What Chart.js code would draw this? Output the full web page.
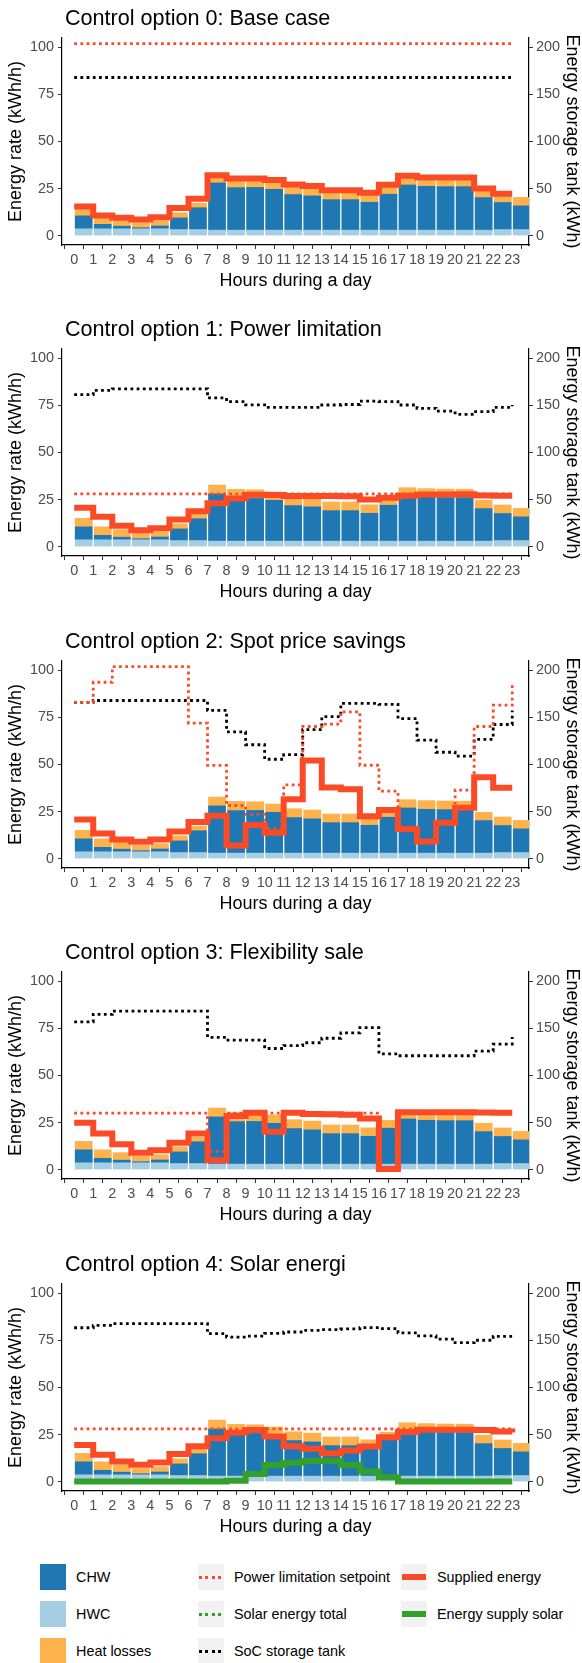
<!DOCTYPE html>
<html>
<head>
<meta charset="utf-8">
<title>Control options</title>
<script src="https://cdn.jsdelivr.net/npm/chart.js@4.4.0/dist/chart.umd.min.js"></script>
<style>
  body { margin: 0; background: #fff; font-family: 'Liberation Sans', Arial, sans-serif; }
  #page { position: relative; width: 582px; height: 1663px; }
  .panel { position: absolute; left: 0; width: 582px; height: 311px; }
  .panel h2 { position: absolute; left: 65px; top: 7px; margin: 0; font-size: 21.6px; line-height: 22px;
              font-weight: normal; color: #000; white-space: nowrap; }
  .panel canvas { position: absolute; left: 0; top: 0; }
  .key { position: absolute; width: 26px; height: 26px; }
  .key.line { background: #f2f2f2; }
  .key .seg { position: absolute; left: 1px; width: 24px; }
  .label { position: absolute; font-size: 14.4px; line-height: 18px; color: #000; white-space: nowrap; }
</style>
</head>
<body>
<div id="page"></div>

<script>
  var hours = [0, 1, 2, 3, 4, 5, 6, 7, 8, 9, 10, 11, 12, 13, 14, 15, 16, 17, 18, 19, 20, 21, 22, 23];
  var yTicks = [0, 25, 50, 75, 100];
  var y2Ticks = [0, 50, 100, 150, 200];

  // demand (same in every panel), kWh/h
  var hwc = [3.6, 3.6, 3.6, 3.6, 3.6, 3.2, 3.2, 2.9, 2.9, 2.9, 2.9, 2.9, 2.9, 2.9, 2.9, 2.9, 2.9, 2.9, 2.9, 2.9, 2.9, 2.9, 3.2, 3.2];
  var chw = [6.9, 2.4, 1.4, 0.6, 1.5, 6.2, 11.6, 25.1, 22.6, 22.7, 21.7, 18.9, 18.2, 16.2, 16.2, 14.8, 19.1, 24.0, 23.3, 23.1, 23.1, 17.3, 14.4, 12.6];
  var heatLosses = [4.5, 4.5, 4.0, 2.8, 2.8, 2.7, 2.4, 4.7, 4.9, 4.6, 4.4, 4.7, 4.7, 4.6, 4.6, 4.5, 4.2, 4.4, 4.6, 4.6, 4.5, 4.4, 4.5, 4.5];

  // option 0
  var supplied0 = [15.5, 10.7, 9.5, 8.6, 9.8, 14.6, 19.6, 32.1, 30.4, 30.4, 29.5, 27.1, 26.4, 24.1, 24.1, 22.7, 27.0, 31.8, 30.9, 30.9, 30.9, 25.0, 22.3, 22.3];
  var limit0 = [102, 102, 102, 102, 102, 102, 102, 102, 102, 102, 102, 102, 102, 102, 102, 102, 102, 102, 102, 102, 102, 102, 102, 102];
  var soc0 = [168, 168, 168, 168, 168, 168, 168, 168, 168, 168, 168, 168, 168, 168, 168, 168, 168, 168, 168, 168, 168, 168, 168, 168];

  // option 1
  var supplied1 = [20.6, 15.8, 11.1, 8.7, 9.8, 14.4, 18.8, 23.0, 25.6, 27.5, 27.4, 26.9, 26.9, 26.9, 26.7, 25.0, 25.9, 27.0, 27.7, 27.7, 27.8, 27.2, 27.0, 27.0];
  var limit1 = [28, 28, 28, 28, 28, 28, 28, 28, 28, 28, 28, 28, 28, 28, 28, 28, 28, 28, 28, 28, 28, 28, 28, 28];
  var soc1 = [161.6, 166, 167.7, 167.7, 167.7, 167.7, 167.7, 158, 154, 150.6, 148, 148, 148, 150.5, 151, 154.5, 154, 150.5, 147, 144, 140.5, 143.5, 148, 150.6];

  // option 2
  var supplied2 = [20.8, 13.3, 10.2, 9.0, 10.1, 14.4, 19.5, 22.8, 7.0, 17.8, 13.7, 31.5, 52.1, 37.8, 36.9, 22.5, 25.8, 15.7, 9.1, 19.1, 27.0, 43.2, 37.7, 37.7];
  var limit2 = [83, 93.7, 102, 102, 102, 102, 72, 49.5, 28.2, 23.5, 16, 39.2, 70.2, 71.5, 78, 49.6, 35.8, 15.7, 9.1, 19.1, 36.4, 70.2, 81.5, 93];
  var soc2 = [166, 168, 168, 168, 168, 168, 168, 157.5, 134.7, 121, 105.6, 110.4, 137, 150.8, 165, 165, 164, 148.8, 126, 113, 109, 126.8, 142.5, 157.3];

  // option 3
  var supplied3 = [24.9, 19.2, 13.5, 9.0, 10.3, 14.3, 19.2, 5.0, 28.5, 30.2, 20.1, 30.2, 29.5, 29.4, 29.2, 27.2, 0.3, 30.5, 30.5, 30.5, 30.5, 30.4, 30.2, 30.2];
  var limit3 = [30, 30, 30, 30, 30, 30, 30, 9.7, 30, 30, 30, 30, 30, 30, 30, 30, 0.3, 30, 30, 30, 30, 30, 30, 30];
  var soc3 = [157, 165, 168.5, 168.5, 168.5, 168.5, 168.5, 140.5, 137.7, 137.7, 128.7, 131.7, 134.8, 139.6, 145.3, 150.8, 123, 121, 121, 121, 121, 126, 133.4, 141];

  // option 4
  var supplied4 = [19.4, 14.2, 10.7, 9.0, 10.2, 14.6, 18.8, 23.0, 25.9, 27.4, 24.0, 18.8, 17.5, 15.1, 16.5, 18.6, 23.5, 26.3, 27.5, 27.5, 27.6, 27.4, 26.6, 26.1];
  var limit4 = [28, 28, 28, 28, 28, 28, 28, 28, 28, 28, 28, 28, 28, 28, 28, 28, 28, 28, 28, 28, 28, 28, 28, 28];
  var soc4 = [163.5, 166, 167.8, 167.8, 167.8, 167.8, 167.8, 157.2, 153.6, 154.7, 157.5, 159, 160.7, 161.5, 162.3, 163.7, 162.6, 158, 154.9, 151.4, 147.6, 150.2, 154.4, 154.4];
  var solar4 = [0, 0, 0, 0, 0, 0, 0, 0, 0.5, 4.0, 8.8, 10.0, 11.0, 11.0, 8.8, 5.4, 2.3, 0, 0, 0, 0, 0, 0, 0];

  var panels = [
    { title: 'Control option 0: Base case', supplied: supplied0, limit: limit0, soc: soc0 },
    { title: 'Control option 1: Power limitation', supplied: supplied1, limit: limit1, soc: soc1 },
    { title: 'Control option 2: Spot price savings', supplied: supplied2, limit: limit2, soc: soc2 },
    { title: 'Control option 3: Flexibility sale', supplied: supplied3, limit: limit3, soc: soc3 },
    { title: 'Control option 4: Solar energi', supplied: supplied4, limit: limit4, soc: soc4, solar: solar4 }
  ];

  var colors = {
    chw: '#1F78B4', hwc: '#A6CEE3', losses: '#FDB24C',
    supplied: '#FA4B26', limit: '#FB4A2A', solar: '#33A02C', soc: '#000000'
  };
  var FONT = "'Liberation Sans', Arial, sans-serif";

  function barData(vals) {
    return vals.map(function(v, i) { return { x: hours[i] + 0.5, y: v }; });
  }
  function lineData(vals) {
    return vals.map(function(v, i) { return { x: hours[i], y: v }; });
  }
  function bar(label, vals, color) {
    return { type: 'bar', label: label, data: barData(vals), backgroundColor: color,
             stack: 'demand', barThickness: 17.1, order: 10, borderWidth: 0 };
  }
  function step(label, vals, color, width, dotted, order, axis) {
    return { type: 'line', label: label, data: lineData(vals), borderColor: color, borderWidth: width,
             borderDash: dotted ? [2.8, 3.4] : [], stepped: true, pointRadius: 0, fill: false,
             borderCapStyle: 'butt', borderJoinStyle: 'miter', order: order,
             stack: label, yAxisID: axis || 'y' };
  }
  function fixTicks(list) {
    return function(s) { s.ticks = list.map(function(v) { return { value: v }; }); };
  }
  var tickFont = { family: FONT, size: 14.4 };
  var titleFont = { family: FONT, size: 18, lineHeight: 1.1 };
  var gridOpts = { display: true, drawOnChartArea: false, drawTicks: true, tickLength: 4, color: '#333333', lineWidth: 1 };
  var borderOpts = { display: true, color: '#000000', width: 1.2 };

  var page = document.getElementById('page');

  panels.forEach(function(p, i) {
    var div = document.createElement('div');
    div.className = 'panel';
    div.style.top = Math.round(i * 311.4) + 'px';
    var h = document.createElement('h2');
    h.textContent = p.title;
    var canvas = document.createElement('canvas');
    canvas.width = 582;
    canvas.height = 311;
    div.appendChild(canvas);
    div.appendChild(h);
    page.appendChild(div);

    var datasets = [
      bar('HWC', hwc, colors.hwc),
      bar('CHW', chw, colors.chw),
      bar('Heat losses', heatLosses, colors.losses),
      step('SoC storage tank', p.soc, colors.soc, 2.8, true, 4, 'y2'),
      step('Power limitation setpoint', p.limit, colors.limit, 2.8, true, 3)
    ];
    if (p.solar) datasets.push(step('Energy supply solar', p.solar, colors.solar, 6, false, 2));
    datasets.push(step('Supplied energy', p.supplied, colors.supplied, 6, false, 1));

    new Chart(canvas.getContext('2d'), {
      type: 'bar',
      data: { datasets: datasets },
      options: {
        responsive: false,
        animation: false,
        events: [],
        layout: { padding: { top: 38, left: 0, right: 0, bottom: 0 } },
        plugins: { legend: { display: false }, tooltip: { enabled: false } },
        scales: {
          x: {
            type: 'linear', min: -0.64, max: 23.88, offset: false, stacked: true,
            afterBuildTicks: fixTicks(hours),
            afterFit: function(s) { s.height = 66; },
            grid: gridOpts, border: borderOpts,
            ticks: { font: tickFont, color: '#4D4D4D', padding: 2, maxRotation: 0, autoSkip: false },
            title: { display: true, text: 'Hours during a day', color: '#000', font: titleFont, padding: { top: 0, bottom: 20 } }
          },
          y: {
            type: 'linear', position: 'left', min: -5, max: 105, stacked: true,
            afterBuildTicks: fixTicks(yTicks),
            afterFit: function(s) { s.width = 62; },
            grid: gridOpts, border: borderOpts,
            ticks: { font: tickFont, color: '#4D4D4D', padding: 4 },
            title: { display: true, text: 'Energy rate (kWh/h)', color: '#000', font: titleFont, padding: { top: 6 } }
          },
          y2: {
            type: 'linear', position: 'right', min: -10, max: 210,
            afterBuildTicks: fixTicks(y2Ticks),
            afterFit: function(s) { s.width = 53; },
            grid: gridOpts, border: borderOpts,
            ticks: { font: tickFont, color: '#4D4D4D', padding: 3 },
            title: { display: true, text: 'Energy storage tank (kWh)', color: '#000', font: titleFont, padding: { top: 0 } }
          }
        }
      }
    });
  });

  // legend
  var legendItems = [
    { label: 'CHW', kind: 'fill', color: colors.chw, col: 0, row: 0 },
    { label: 'HWC', kind: 'fill', color: colors.hwc, col: 0, row: 1 },
    { label: 'Heat losses', kind: 'fill', color: colors.losses, col: 0, row: 2 },
    { label: 'Power limitation setpoint', kind: 'dot', color: colors.limit, col: 1, row: 0 },
    { label: 'Solar energy total', kind: 'dot', color: colors.solar, col: 1, row: 1 },
    { label: 'SoC storage tank', kind: 'dot', color: colors.soc, col: 1, row: 2 },
    { label: 'Supplied energy', kind: 'solid', color: colors.supplied, col: 2, row: 0 },
    { label: 'Energy supply solar', kind: 'solid', color: colors.solar, col: 2, row: 1 }
  ];
  var colKeyX = [40, 198, 401];
  var rowY = [1577, 1614, 1651];

  legendItems.forEach(function(it) {
    var key = document.createElement('div');
    key.className = 'key' + (it.kind === 'fill' ? '' : ' line');
    key.style.left = colKeyX[it.col] + 'px';
    key.style.top = (rowY[it.row] - 13) + 'px';
    if (it.kind === 'fill') {
      key.style.background = it.color;
    } else {
      var seg = document.createElement('div');
      seg.className = 'seg';
      if (it.kind === 'dot') {
        seg.style.height = '3px';
        seg.style.top = '11.5px';
        seg.style.background = 'repeating-linear-gradient(90deg, ' + it.color + ' 0 3px, transparent 3px 6.5px)';
      } else {
        seg.style.height = '5.5px';
        seg.style.top = '10.25px';
        seg.style.background = it.color;
      }
      key.appendChild(seg);
    }
    page.appendChild(key);
    var lab = document.createElement('div');
    lab.className = 'label';
    lab.textContent = it.label;
    lab.style.left = (colKeyX[it.col] + 36) + 'px';
    lab.style.top = (rowY[it.row] - 9) + 'px';
    page.appendChild(lab);
  });
</script>
</body>
</html>
